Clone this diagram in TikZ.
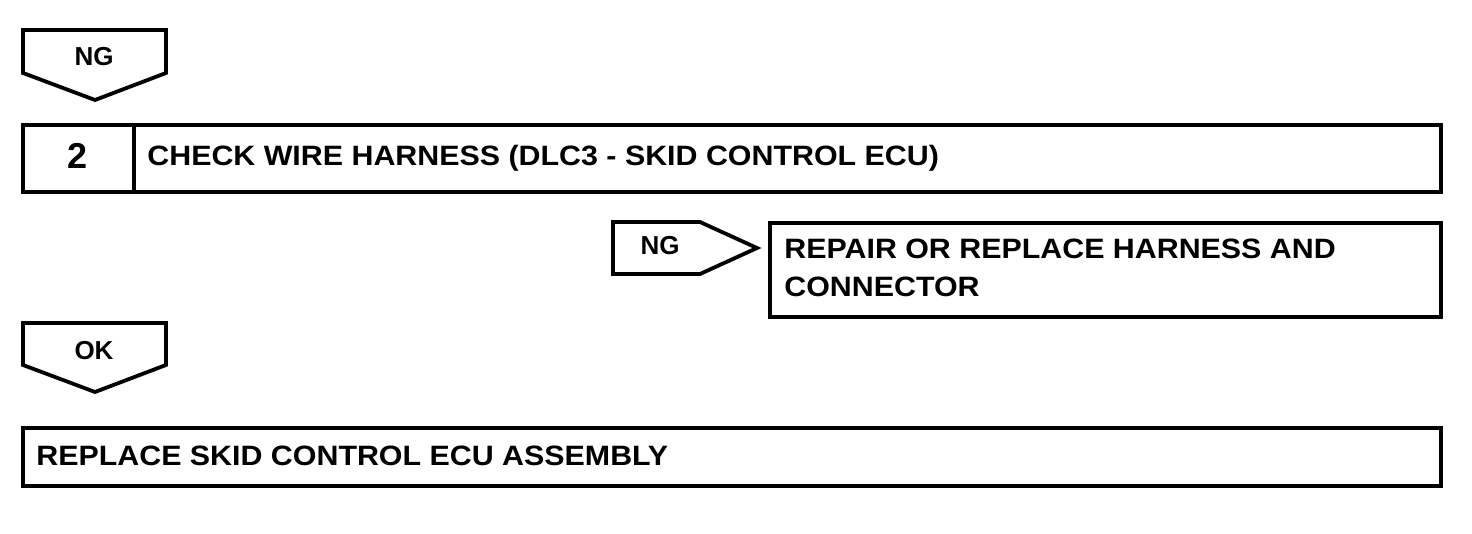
\documentclass[tikz,border=0pt]{standalone}
\usepackage{fontspec}
\setmainfont{Liberation Sans}
\newfontfamily\widefont{Liberation Sans}[FakeStretch=1.085]
\begin{document}
\begin{tikzpicture}[x=0.5pt,y=-0.5pt,
  frame/.style={draw=black,line width=1.9pt,line join=miter},
  lbl/.style={inner sep=0pt,font=\widefont\fontsize{14}{19}\selectfont\bfseries,anchor=base west,align=left},
  tag/.style={inner sep=0pt,font=\fontsize{13}{15}\selectfont\bfseries},
  num/.style={inner sep=0pt,font=\fontsize{18}{20}\selectfont\bfseries}]
\useasboundingbox (0,0) rectangle (1472,534);
% top NG tag
\draw[frame] (23,30) -- (166,30) -- (166,73) -- (95,100) -- (23,73) -- cycle;
\node[tag] (ng1) at (94,57) {NG};
% step 2 box
\draw[frame] (23,125) rectangle (1441,192);
\draw[frame] (134,125) -- (134,192);
\node[num] (n2) at (78,155.5) {2};
\node[lbl] (t2) at (147,166) {CHECK WIRE HARNESS (DLC3 - SKID CONTROL ECU)};
% side NG tag
\draw[frame] (613,222) -- (700,222) -- (757,248) -- (700,274) -- (613,274) -- cycle;
\node[tag] (ng2) at (660,246) {NG};
% repair box
\draw[frame] (770,223) rectangle (1441,317);
\node[lbl] (rep) at (784,297) {REPAIR OR REPLACE HARNESS AND\\CONNECTOR};
% OK tag
\draw[frame] (23,323) -- (166,323) -- (166,365) -- (95,392) -- (23,365) -- cycle;
\node[tag] (ok) at (94,351) {OK};
% final box
\draw[frame] (23,428) rectangle (1441,486);
\node[lbl] (fin) at (36,465) {REPLACE SKID CONTROL ECU ASSEMBLY};
\end{tikzpicture}
\end{document}
